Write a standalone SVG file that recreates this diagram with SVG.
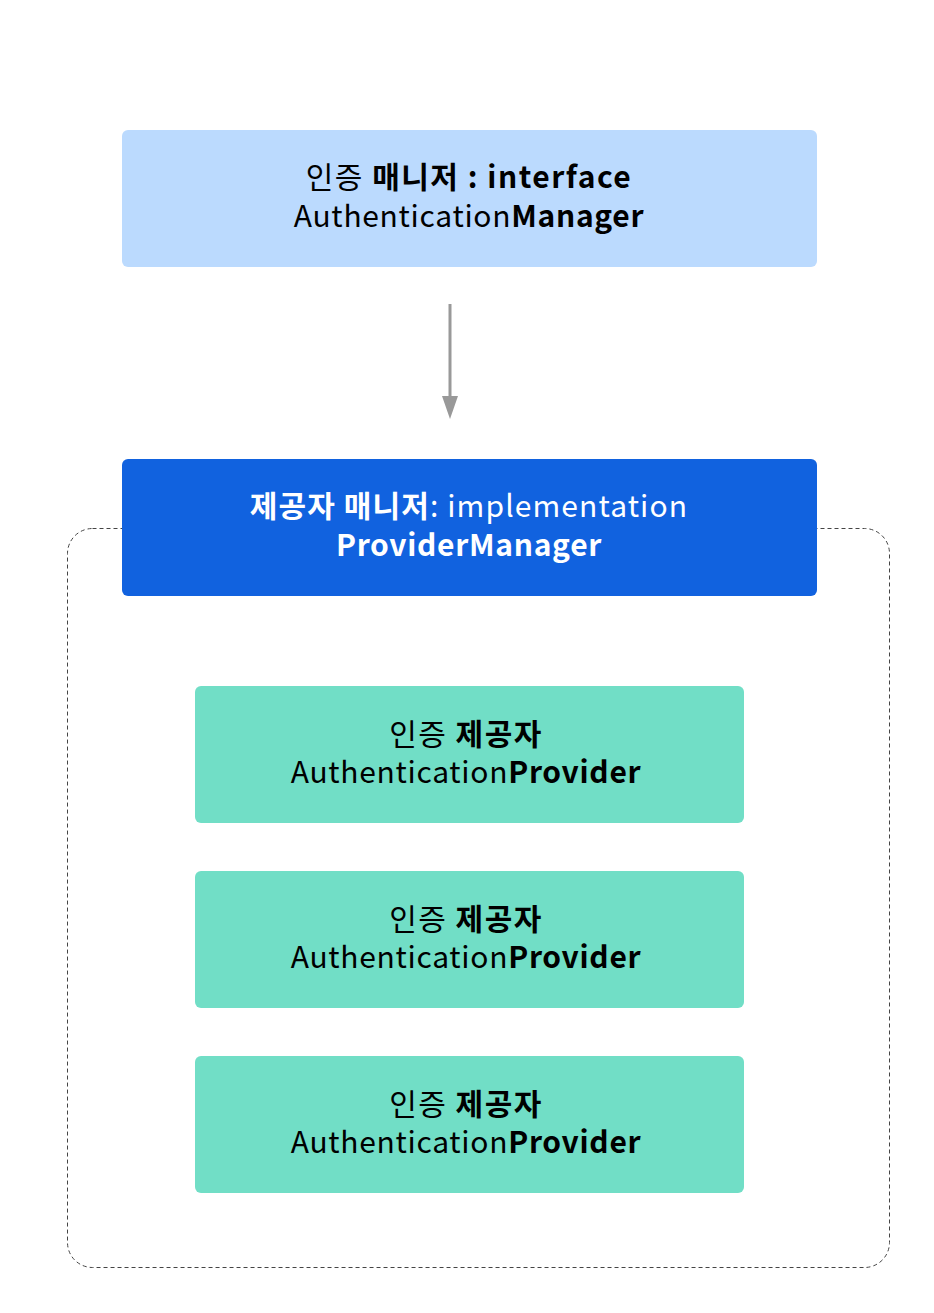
<svg xmlns="http://www.w3.org/2000/svg" width="934" height="1313" viewBox="0 0 934 1313">
<style>
text{font-family:"Noto Sans CJK KR","Noto Sans",sans-serif;font-size:30px;letter-spacing:0.7px;text-anchor:middle}
.b{font-weight:bold}
.dk{fill:#000}
.wt{fill:#fff}
.kr{letter-spacing:1.5px}
.prov{fill:#71DEC6}
</style>
<rect width="934" height="1313" fill="#fff"/>
<g id="container">
<rect x="67.5" y="528.5" width="822" height="739" rx="25" fill="none" stroke="#444" stroke-width="1" stroke-dasharray="4 3"/>
</g>
<g id="connectors">
<line x1="450" y1="304" x2="450" y2="396" stroke="#999" stroke-width="3"/>
<path d="M442,396 L458,396 L450,419 Z" fill="#999"/>
</g>
<g id="auth-manager">
<rect x="122" y="130" width="695" height="137" rx="6" fill="#BBDAFE"/>
<text x="469" y="188" class="dk" style="letter-spacing:1.5px">인증 <tspan class="b">매니저 : interface</tspan></text>
<text x="469" y="227" class="dk">Authentication<tspan class="b">Manager</tspan></text>
</g>
<g id="provider-manager">
<rect x="122" y="459" width="695" height="137" rx="6" fill="#1162DF"/>
<text x="469" y="517" class="wt" style="letter-spacing:1.1px"><tspan class="b">제공자 매니저</tspan>: implementation</text>
<text x="469" y="556" class="wt b">ProviderManager</text>
</g>
<g id="provider-1">
<rect x="195" y="686" width="549" height="137" rx="6" class="prov"/>
<text x="466" y="745" class="dk kr">인증 <tspan class="b">제공자</tspan></text>
<text x="466" y="783" class="dk">Authentication<tspan class="b">Provider</tspan></text>
</g>
<g id="provider-2">
<rect x="195" y="871" width="549" height="137" rx="6" class="prov"/>
<text x="466" y="930" class="dk kr">인증 <tspan class="b">제공자</tspan></text>
<text x="466" y="968" class="dk">Authentication<tspan class="b">Provider</tspan></text>
</g>
<g id="provider-3">
<rect x="195" y="1056" width="549" height="137" rx="6" class="prov"/>
<text x="466" y="1115" class="dk kr">인증 <tspan class="b">제공자</tspan></text>
<text x="466" y="1153" class="dk">Authentication<tspan class="b">Provider</tspan></text>
</g>
</svg>
